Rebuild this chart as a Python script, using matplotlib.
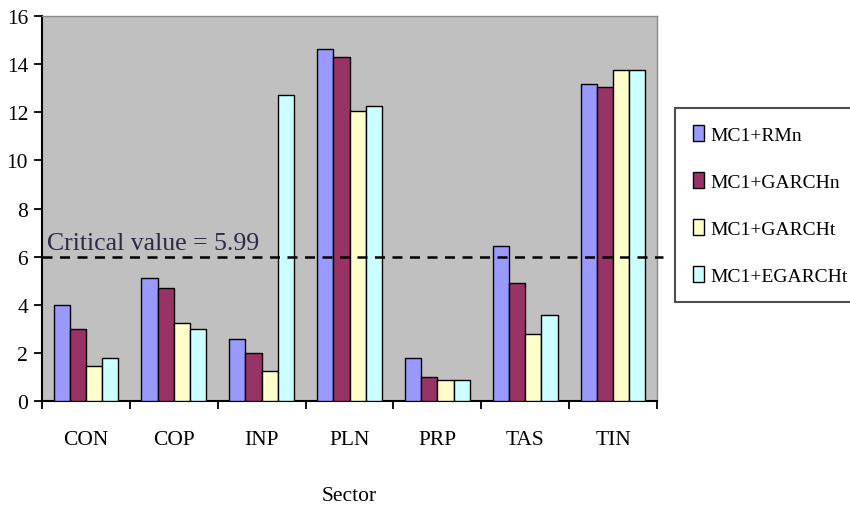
import matplotlib
matplotlib.use("Agg")
import matplotlib.pyplot as plt
import numpy as np

sectors = ["CON", "COP", "INP", "PLN", "PRP", "TAS", "TIN"]
series_names = ["MC1+RMn", "MC1+GARCHn", "MC1+GARCHt", "MC1+EGARCHt"]
mc1_rmn = [4.0, 5.1, 2.55, 14.65, 1.78, 6.45, 13.2]
mc1_garchn = [3.0, 4.7, 2.0, 14.3, 0.97, 4.9, 13.05]
mc1_garcht = [1.45, 3.25, 1.22, 12.05, 0.88, 2.78, 13.75]
mc1_egarcht = [1.78, 3.0, 12.72, 12.28, 0.88, 3.57, 13.75]
critical_value = 5.99
y_ticks = [0, 2, 4, 6, 8, 10, 12, 14, 16]

colors = ["#9999FF", "#993366", "#FFFFCC", "#CCFFFF"]
series = [mc1_rmn, mc1_garchn, mc1_garcht, mc1_egarcht]

plt.rcParams["font.family"] = ["Liberation Serif", "DejaVu Serif"]

fig = plt.figure(figsize=(8.5, 5.1), dpi=100)
ax = fig.add_axes([0.0494, 0.2124, 0.7236, 0.7536])
ax.set_facecolor("#C0C0C0")

x = np.arange(len(sectors))
w = 0.184
for i, (vals, c, name) in enumerate(zip(series, colors, series_names)):
    ax.bar(x + (i - 1.5) * w, vals, width=w, color=c, edgecolor="black",
           linewidth=1.0, label=name, zorder=3)

ax.axhline(critical_value, xmin=0, xmax=1.01, color="black", linestyle=(0, (4, 3)),
           linewidth=1.8, zorder=4, clip_on=False)
ax.text(-0.44, critical_value + 0.1, "Critical value = 5.99", fontsize=18.5,
        color="#2b2b45", ha="left", va="bottom", zorder=5)

ax.set_xlim(-0.5, len(sectors) - 0.5)
ax.set_ylim(0, 16)
ax.set_yticks(y_ticks)
ax.set_xticks(x)
ax.set_xticklabels(sectors)
ax.set_xticks(np.arange(-0.5, len(sectors), 1.0), minor=True)
ax.tick_params(axis="x", which="major", length=0, pad=21, labelsize=15.5)
ax.tick_params(axis="x", which="minor", length=6, width=1.3, direction="out")
ax.tick_params(axis="y", length=6, width=1.3, direction="out", pad=4, labelsize=15.5)

for side in ("left", "bottom"):
    ax.spines[side].set_color("black")
    ax.spines[side].set_linewidth(1.5)
for side in ("top", "right"):
    ax.spines[side].set_color("#8a8a8a")
    ax.spines[side].set_linewidth(1.0)

ax.set_xlabel("Sector", fontsize=15.5, labelpad=27)

leg = ax.legend(loc="center left", bbox_to_anchor=(675 / 850, 1 - 206 / 510),
                bbox_transform=fig.transFigure, fontsize=14, frameon=True,
                fancybox=False, edgecolor="#222222", labelspacing=1.45,
                handlelength=0.6, handleheight=0.9, handletextpad=0.3,
                borderpad=0.9, borderaxespad=0)
leg.get_frame().set_linewidth(1.5)

fig.savefig("out.png", dpi=100, facecolor="white")
